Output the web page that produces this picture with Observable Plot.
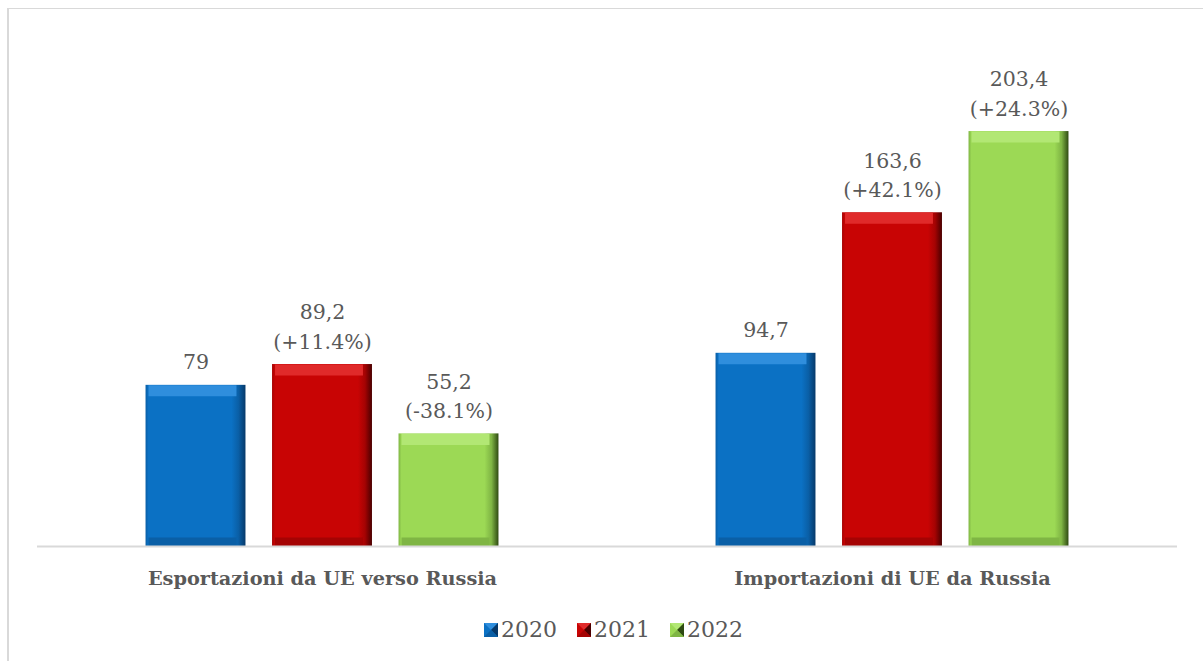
<!DOCTYPE html>
<html>
<head>
<meta charset="utf-8">
<script src="https://cdn.jsdelivr.net/npm/d3@7"></script>
<script src="https://cdn.jsdelivr.net/npm/@observablehq/plot@0.6"></script>
<style>
  html, body { margin: 0; padding: 0; background: #fff; }
  #wrap { position: relative; width: 1203px; height: 661px; overflow: hidden; font-family: "DejaVu Serif", serif; }
  #frame { position: absolute; left: 7px; top: 8px; width: 1300px; height: 700px; border-left: 2px solid #d9d9d9; border-top: 1px solid #d9d9d9; }
  #chart { position: absolute; left: 0; top: 0; }
  #legend { position: absolute; left: 0; top: 617px; width: 1203px; display: flex; justify-content: center; gap: 20px; padding-left: 24px; box-sizing: border-box; }
  .item { display: flex; align-items: center; color: #595959; font-size: 22px; }
  .item svg { margin-right: 3px; }
</style>
</head>
<body>
<div id="wrap">
  <div id="frame"></div>
  <div id="chart"></div>
  <div id="legend"></div>
</div>
<script>
// ---- data ----
const categories = ["Esportazioni da UE verso Russia", "Importazioni di UE da Russia"];
const years = ["2020", "2021", "2022"];
const exportValues = [79, 89.2, 55.2];
const importValues = [94.7, 163.6, 203.4];
const exportChanges = ["", "+11.4%", "-38.1%"];
const importChanges = ["", "+42.1%", "+24.3%"];

// ---- styles ----
const colors = {
  "2020": {main: "#0B71C4", light: "#2F8EDD", dark: "#06396A", bottom: "#0A5FA6"},
  "2021": {main: "#C80404", light: "#E02A2A", dark: "#4A0000", bottom: "#A50303"},
  "2022": {main: "#9CD955", light: "#B2E774", dark: "#2F4A12", bottom: "#7FB544"}
};

const fmt = v => String(v).replace(".", ",");
const rows = [];
categories.forEach((c, ci) => {
  const vals = ci === 0 ? exportValues : importValues;
  const chg = ci === 0 ? exportChanges : importChanges;
  years.forEach((y, yi) => {
    rows.push({cat: c, year: y, value: vals[yi],
      label: chg[yi] ? `${fmt(vals[yi])}\n(${chg[yi]})` : fmt(vals[yi])});
  });
});

const marks = [];
for (const y of years) {
  const d = rows.filter(r => r.year === y);
  const c = colors[y];
  marks.push(Plot.barY(d, {fx: "cat", x: "year", y: "value", fill: `url(#g${y})`}));
  marks.push(Plot.tickY(d, {fx: "cat", x: "year", y: "value", stroke: c.light, strokeWidth: 11, dy: 5.5, insetLeft: 3, insetRight: 9}));
  marks.push(Plot.tickY(d, {fx: "cat", x: "year", y: 0, stroke: c.bottom, strokeWidth: 9, dy: -4.5, insetLeft: 3, insetRight: 9}));
}
marks.push(Plot.ruleY([0], {stroke: "#d9d9d9", strokeWidth: 2}));
marks.push(Plot.text(rows, {fx: "cat", x: "year", y: "value", text: "label", lineAnchor: "bottom", dy: -16,
  lineHeight: 1.42, fontSize: 20.5, fill: "#595959", fontFamily: "DejaVu Serif"}));
marks.push(Plot.axisFx({anchor: "bottom", tickSize: 0, tickPadding: 25, label: null,
  fontSize: 19.3, fontWeight: "bold", fill: "#595959", fontFamily: "DejaVu Serif"}));

const chart = Plot.plot({
  width: 1203,
  height: 600,
  marginLeft: 37,
  marginRight: 26,
  marginTop: 36,
  marginBottom: 54,
  style: {background: "transparent", fontFamily: "DejaVu Serif", overflow: "visible"},
  fx: {domain: categories, padding: 0, axis: null},
  x: {domain: years, paddingInner: 0.21, paddingOuter: 0.858, axis: null, round: false},
  y: {domain: [0, 250], axis: null},
  marks
});

// gradient defs
const ns = "http://www.w3.org/2000/svg";
const defs = document.createElementNS(ns, "defs");
for (const y of years) {
  const c = colors[y];
  const g = document.createElementNS(ns, "linearGradient");
  g.setAttribute("id", "g" + y);
  g.setAttribute("x1", "0"); g.setAttribute("x2", "1"); g.setAttribute("y1", "0"); g.setAttribute("y2", "0");
  [[0, c.bottom], [0.03, c.main], [0.86, c.main], [0.93, c.bottom], [1, c.dark]].forEach(([o, col]) => {
    const s = document.createElementNS(ns, "stop");
    s.setAttribute("offset", o); s.setAttribute("stop-color", col);
    g.appendChild(s);
  });
  defs.appendChild(g);
}
chart.insertBefore(defs, chart.firstChild);
document.getElementById("chart").appendChild(chart);

// legend
const legend = document.getElementById("legend");
for (const y of years) {
  const c = colors[y];
  const item = document.createElement("div");
  item.className = "item";
  item.innerHTML = `<svg width="14" height="14"><rect width="14" height="14" fill="${c.main}"/>
    <polygon points="0,0 14,0 7,7" fill="${c.light}"/><polygon points="14,0 14,14 7,7" fill="${c.dark}"/>
    <polygon points="0,14 14,14 7,7" fill="${c.bottom}"/></svg><span>${y}</span>`;
  legend.appendChild(item);
}
</script>
</body>
</html>
